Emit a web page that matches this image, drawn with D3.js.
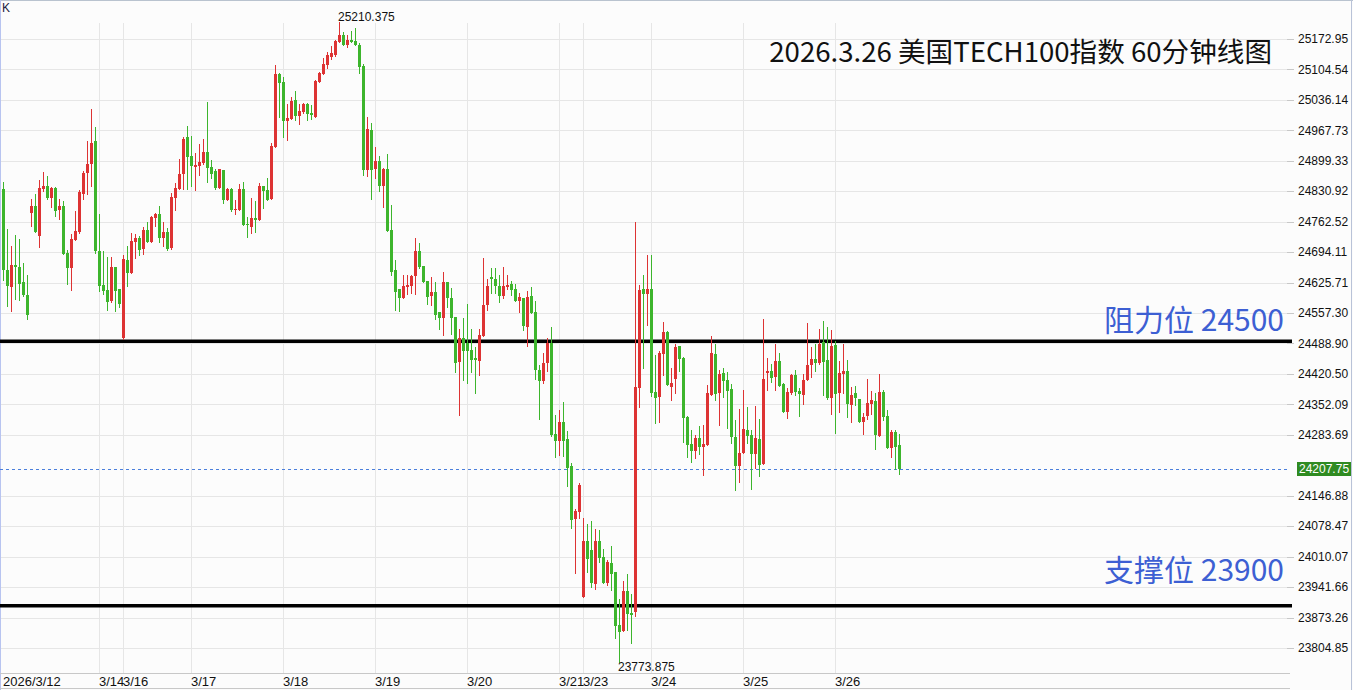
<!DOCTYPE html>
<html><head><meta charset="utf-8">
<script src="https://cdn.jsdelivr.net/npm/d3@7/dist/d3.min.js"></script>
<style>html,body{margin:0;padding:0;background:#fcfcfc;overflow:hidden}</style>
</head><body><svg id="c" width="1353" height="690"></svg>
<script>
// ---- data ----
const openP = [
24836,24654,24616,24665,24661,24627,24597,24783,24798,24731,
24836,24842,24816,24838,24789,24798,24692,24659,24722,24740,
24825,24871,24893,24944,24697,24621,24609,24585,24661,24612,
24502,24677,24648,24718,24727,24701,24744,24718,24771,24780,
24725,24740,24704,24816,24836,24870,24953,24910,24885,24887,
24894,24919,24885,24877,24838,24879,24811,24836,24789,24789,
24836,24757,24751,24771,24767,24842,24834,24813,24930,25094,
25076,24989,24993,25036,25000,25009,25027,25007,24998,25076,
25094,25115,25133,25137,25166,25182,25160,25171,25169,25160,
25112,24879,24969,24881,24899,24842,24881,24744,24654,24612,
24591,24616,24618,24641,24697,24663,24629,24596,24605,24560,
24547,24627,24591,24549,24448,24501,24490,24474,24457,24450,
24506,24575,24638,24634,24618,24596,24616,24623,24612,24585,
24591,24526,24596,24560,24429,24405,24446,24489,24286,24270,
24313,24274,24213,24094,24110,23919,24045,24025,23949,24045,
24009,23951,23996,23976,23857,23843,23933,23884,23886,24389,
24612,24599,24612,24380,24369,24466,24515,24391,24410,24483,
24456,24324,24263,24248,24277,24257,24262,24373,24465,24378,
24423,24407,24387,24279,24214,24244,24295,24283,24241,24274,
24219,24423,24427,24413,24450,24398,24335,24378,24418,24382,
24373,24407,24441,24454,24445,24492,24452,24366,24486,24378,
24420,24427,24351,24378,24364,24313,24326,24353,24360,24281,
24380,24326,24254,24290,24261];
const highP = [
24852,24746,24709,24733,24724,24670,24643,24813,24825,24856,
24874,24865,24840,24840,24813,24809,24699,24735,24787,24834,
24877,24944,25016,24975,24780,24697,24684,24684,24661,24612,
24688,24709,24737,24735,24731,24751,24762,24775,24783,24798,
24762,24748,24827,24850,24903,24953,24978,24955,24917,24937,
24948,25032,24901,24881,24881,24879,24838,24838,24811,24847,
24852,24774,24816,24809,24850,24842,24861,24939,25115,25097,
25088,25027,25043,25056,25027,25029,25029,25025,25081,25099,
25130,25144,25157,25171,25210.375,25189,25182,25191,25198,25164,
25117,24998,24984,24930,24910,24883,24915,24800,24677,24612,
24643,24643,24643,24726,24715,24663,24629,24638,24627,24560,
24650,24627,24614,24549,24522,24546,24578,24522,24481,24522,
24681,24634,24659,24659,24643,24661,24643,24629,24623,24603,
24591,24607,24616,24585,24441,24468,24501,24526,24328,24340,
24357,24292,24220,24117,24175,24097,24083,24090,24072,24070,
24027,24003,24034,23976,23915,23955,23971,23926,24762,24620,
24643,24688,24688,24463,24472,24537,24517,24434,24488,24483,
24459,24326,24295,24283,24304,24306,24396,24506,24488,24429,
24434,24425,24398,24317,24342,24385,24346,24295,24348,24319,
24544,24456,24443,24488,24468,24400,24389,24420,24429,24389,
24420,24535,24481,24488,24522,24540,24526,24519,24495,24450,
24488,24452,24391,24393,24364,24333,24409,24382,24378,24420,
24384,24340,24295,24295,24286];
const lowP = [
24632,24574,24563,24589,24587,24596,24544,24753,24740,24706,
24832,24813,24796,24776,24769,24691,24623,24610,24722,24738,
24813,24825,24842,24692,24606,24599,24565,24583,24563,24572,
24498,24619,24648,24681,24688,24691,24718,24718,24752,24718,
24709,24699,24702,24789,24836,24836,24836,24842,24834,24867,
24892,24852,24861,24836,24838,24805,24811,24787,24780,24789,
24754,24728,24737,24740,24767,24794,24811,24813,24930,24998,
24953,24946,24993,24991,24982,25007,24991,24993,24998,25076,
25094,25108,25128,25135,25166,25160,25155,25166,25160,25097,
24867,24865,24813,24861,24832,24796,24742,24643,24564,24562,
24591,24600,24602,24600,24659,24627,24578,24576,24544,24522,
24508,24570,24511,24425,24329,24408,24401,24425,24378,24419,
24506,24564,24603,24603,24583,24591,24612,24598,24585,24560,
24520,24483,24558,24409,24319,24400,24428,24281,24234,24238,
24236,24168,24074,23973,24097,23919,23975,23941,23937,23998,
23951,23946,23935,23827,23773.875,23843,23845,23816,23877,24347,
24434,24531,24371,24311,24313,24419,24396,24361,24378,24428,
24268,24235,24223,24232,24241,24194,24262,24373,24363,24306,
24369,24300,24266,24160,24178,24244,24266,24163,24210,24192,
24219,24384,24402,24384,24393,24335,24322,24375,24373,24326,
24353,24407,24414,24427,24443,24373,24364,24330,24288,24335,
24378,24324,24313,24351,24313,24286,24319,24330,24252,24281,
24317,24254,24234,24207,24196];
const closeP = [
24654,24619,24665,24661,24623,24597,24553,24798,24740,24838,
24842,24816,24838,24787,24798,24691,24659,24724,24742,24829,
24872,24892,24939,24697,24617,24606,24583,24661,24606,24577,
24679,24648,24719,24727,24699,24744,24718,24773,24780,24725,
24740,24702,24818,24838,24870,24948,24908,24887,24890,24896,
24919,24883,24870,24838,24881,24811,24836,24789,24791,24836,
24754,24754,24771,24767,24842,24831,24811,24933,25094,25074,
24989,24996,25034,25000,25011,25027,25005,25002,25079,25097,
25117,25137,25142,25169,25182,25160,25171,25166,25160,25110,
24879,24971,24879,24899,24842,24881,24742,24650,24605,24591,
24618,24621,24641,24697,24661,24627,24594,24605,24554,24546,
24627,24590,24547,24445,24501,24473,24473,24452,24452,24508,
24575,24618,24634,24618,24596,24618,24621,24609,24585,24594,
24528,24594,24558,24429,24405,24446,24489,24283,24270,24313,
24270,24209,24092,24112,24171,24045,24005,23951,24045,24007,
23951,23998,23971,23854,23841,23933,23881,23879,24391,24609,
24599,24612,24377,24367,24468,24515,24396,24400,24481,24455,
24322,24262,24248,24277,24257,24263,24378,24468,24376,24420,
24405,24383,24279,24214,24243,24297,24280,24241,24277,24217,
24409,24427,24411,24450,24393,24335,24380,24418,24380,24375,
24407,24441,24454,24445,24488,24447,24366,24483,24375,24423,
24427,24353,24373,24366,24313,24324,24355,24362,24283,24380,
24324,24254,24290,24256,24207.75];

const dateLabels = ["2026/3/12","3/14","3/16","3/17","3/18","3/19","3/20","3/21","3/23","3/24","3/25","3/26"];
const dateIndex  = [0,24,30,47,70,93,116,139,145,162,185,208];
const priceTickLabels = ["25172.95","25104.54","25036.14","24967.73","24899.33","24830.92",
  "24762.52","24694.11","24625.71","24557.30","24488.90","24420.50","24352.09","24283.69",
  "24146.88","24078.47","24010.07","23941.66","23873.26","23804.85"];
const lastPrice = 24207.75;
const levelValues = [24494, 23900];
const levelLabels = ["阻力位 24500", "支撑位 23900"];
const titleText = "2026.3.26 美国TECH100指数 60分钟线图";
const highLabel = "25210.375", lowLabel = "23773.875";

// ---- drawing ----
const svg = d3.select("#c");
const n = closeP.length;
const x = d3.scaleLinear().domain([0, n - 1]).range([3.3, 3.3 + 4 * (n - 1)]);
const y = d3.scaleLinear().domain([23804.85, 25172.95]).range([648, 39]);
const plotRight = 1290;
const RED = "#dd3333", GREEN = "#3db52d";
const FONT = "Liberation Sans, Arial, sans-serif";
const px = i => Math.round(x(i));

svg.append("rect").attr("width", 1353).attr("height", 690).attr("fill", "#fcfcfc");

// horizontal grid + right ticks
const gH = svg.append("g").attr("shape-rendering", "crispEdges");
priceTickLabels.forEach(t => {
  const yy = Math.round(y(+t)) + 0.5;
  gH.append("line").attr("x1", 0).attr("x2", plotRight).attr("y1", yy).attr("y2", yy)
    .attr("stroke", "#e6e6e6");
  gH.append("line").attr("x1", plotRight - 3).attr("x2", plotRight + 4).attr("y1", yy).attr("y2", yy)
    .attr("stroke", "#c8c8c8");
});
// vertical grid
dateIndex.forEach((d, k) => {
  if (k === 0) return;
  const xx = px(d) + 0.5;
  gH.append("line").attr("x1", xx).attr("x2", xx).attr("y1", 23).attr("y2", 673)
    .attr("stroke", "#e6e6e6");
});

// frame lines
const fr = svg.append("g").attr("shape-rendering", "crispEdges");
fr.append("line").attr("x1", 0).attr("x2", 1353).attr("y1", 0.5).attr("y2", 0.5).attr("stroke", "#b9c3cf");
fr.append("line").attr("x1", 0.5).attr("x2", 0.5).attr("y1", 0).attr("y2", 690).attr("stroke", "#b8c4f0");
fr.append("line").attr("x1", 1351.5).attr("x2", 1351.5).attr("y1", 0).attr("y2", 690).attr("stroke", "#b9c3d8");
fr.append("line").attr("x1", 0).attr("x2", plotRight).attr("y1", 673.5).attr("y2", 673.5).attr("stroke", "#c8c8c8");
fr.append("line").attr("x1", 0).attr("x2", plotRight).attr("y1", 688.5).attr("y2", 688.5).attr("stroke", "#c8c8c8");

// level lines
levelValues.forEach(v => {
  svg.append("line").attr("x1", 0).attr("x2", 1292).attr("y1", y(v)).attr("y2", y(v))
    .attr("stroke", "#000").attr("stroke-width", 3.5);
});

// last price dashed line
svg.append("line").attr("x1", 0).attr("x2", plotRight).attr("y1", Math.round(y(lastPrice)) + 0.5)
  .attr("y2", Math.round(y(lastPrice)) + 0.5).attr("stroke", "#4b7fdc").attr("stroke-dasharray", "3,3")
  .attr("shape-rendering", "crispEdges");

// candles
const gc = svg.append("g").attr("shape-rendering", "crispEdges");
d3.range(n).forEach(i => {
  const o = openP[i], c = closeP[i], h = highP[i], l = lowP[i];
  const col = c >= o ? RED : GREEN;
  const cx = px(i);
  gc.append("line").attr("x1", cx + 0.5).attr("x2", cx + 0.5)
    .attr("y1", Math.round(y(h))).attr("y2", Math.round(y(l)) + 1).attr("stroke", col);
  const yt = Math.round(y(Math.max(o, c))), yb = Math.round(y(Math.min(o, c)));
  gc.append("rect").attr("x", cx - 1).attr("width", 3).attr("y", yt)
    .attr("height", Math.max(1, yb - yt)).attr("fill", col);
});

// high / low labels
const iHi = d3.maxIndex(highP), iLo = d3.minIndex(lowP);
svg.append("text").attr("x", px(iHi) - 1).attr("y", y(highP[iHi]) - 1)
  .attr("font-family", FONT).attr("font-size", 12).attr("fill", "#111").text(highLabel);
svg.append("text").attr("x", px(iLo) - 1).attr("y", y(lowP[iLo]) + 9)
  .attr("font-family", FONT).attr("font-size", 12).attr("fill", "#111").text(lowLabel);

// right axis labels
priceTickLabels.forEach(t => {
  svg.append("text").attr("x", 1298).attr("y", y(+t)).attr("dy", "0.35em")
    .attr("font-family", FONT).attr("font-size", 12).attr("fill", "#111").text(t);
});
// last price box
const ly = y(lastPrice);
svg.append("rect").attr("x", 1297).attr("y", Math.round(ly) - 7).attr("width", 54).attr("height", 14)
  .attr("fill", "#2f8b21");
svg.append("text").attr("x", 1299).attr("y", ly).attr("dy", "0.35em")
  .attr("font-family", FONT).attr("font-size", 12).attr("fill", "#fff").text(lastPrice.toFixed(2));

// bottom date labels
dateIndex.forEach((d, k) => {
  svg.append("text").attr("x", px(d)).attr("y", 681).attr("dy", "0.35em")
    .attr("font-family", FONT).attr("font-size", 13).attr("fill", "#111").text(dateLabels[k]);
});

// "K" label
svg.append("text").attr("x", 2).attr("y", 12).attr("font-family", FONT)
  .attr("font-size", 12).attr("fill", "#1a1a40").text("K");

// title
svg.append("text").attr("x", 1272).attr("y", 62).attr("text-anchor", "end")
  .attr("font-family", "Noto Sans CJK SC, sans-serif").attr("font-size", 27.6).attr("fill", "#111")
  .text(titleText);

// level labels
const labelDy = [-10, -25];
levelValues.forEach((v, k) => {
  svg.append("text").attr("x", 1284).attr("y", y(v) + labelDy[k]).attr("text-anchor", "end")
    .attr("font-family", "Noto Sans CJK SC, sans-serif").attr("font-size", 30).attr("fill", "#3d5fd3")
    .text(levelLabels[k]);
});
</script></body></html>
